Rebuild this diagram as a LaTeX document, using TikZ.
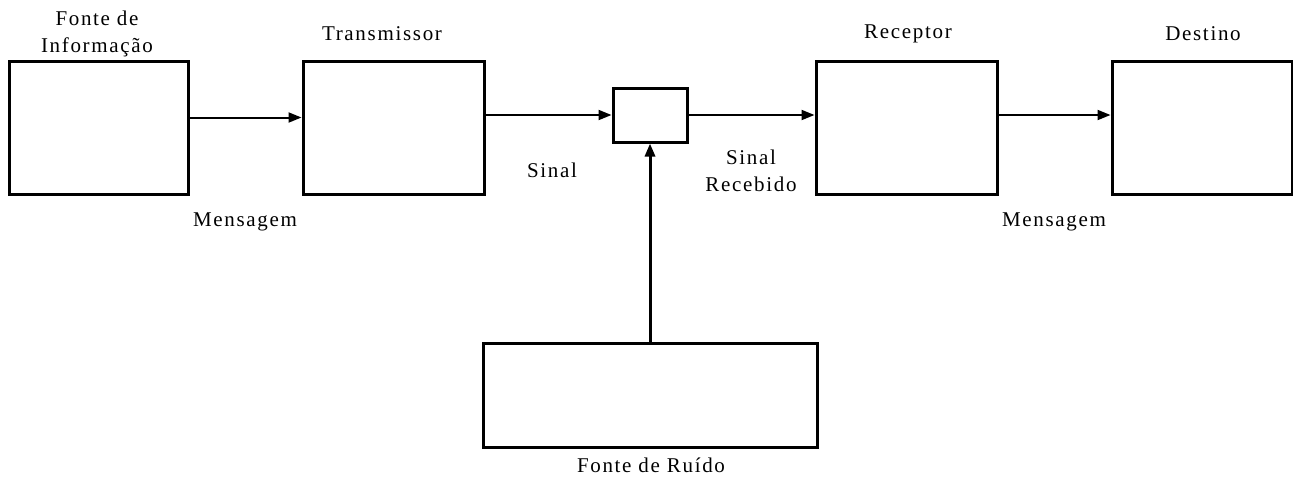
\documentclass[tikz,border=0pt]{standalone}
\usepackage{fontspec}
\newfontfamily\serfont[LetterSpace=8]{Liberation Serif}
\usetikzlibrary{arrows.meta}
\tikzset{
  blk/.style={draw, line width=3pt, inner sep=0pt, anchor=center},
  arr/.style={line width=2pt, -{Triangle[length=13pt,width=10pt]}},
  lbl/.style={inner sep=0pt, anchor=center, align=center, font=\serfont\fontsize{21}{27}\selectfont}
}
\begin{document}
\begin{tikzpicture}[x=1pt,y=-1pt]
\useasboundingbox (0,0) rectangle (1293,477);
\node[blk, minimum width=179pt, minimum height=133pt] (fonte) at (98.5,127.5) {};
\node[blk, minimum width=181pt, minimum height=133pt] (trans) at (393.5,127.5) {};
\node[blk, minimum width=74pt, minimum height=54pt] (canal) at (650,115) {};
\node[blk, minimum width=181pt, minimum height=133pt] (recep) at (906.5,127.5) {};
\node[blk, minimum width=180pt, minimum height=133pt] (dest) at (1202,127.5) {};
\node[blk, minimum width=334pt, minimum height=104pt] (ruido) at (650,395) {};

\node[lbl] (lfonte) at (97,34) {Fonte de\\Informação};
\node[lbl] (ltrans) at (382,34) {Transmissor};
\node[lbl] (lrecep) at (908,34) {Receptor};
\node[lbl] (ldest) at (1203,34) {Destino};
\node[lbl] (lmsg1) at (245,222) {Mensagem};
\node[lbl] (lmsg2) at (1054,222) {Mensagem};
\node[lbl] (lsinal) at (552,170) {Sinal};
\node[lbl] (lsinrec) at (751,171) {Sinal\\Recebido};
\node[lbl] (lruido) at (651,465) {Fonte de Ruído};

\draw[arr] ([yshift=10pt]fonte.east) -- ([yshift=10pt]trans.west);
\draw[arr] ([yshift=12.5pt]trans.east) -- (canal.west);
\draw[arr] (canal.east) -- ([yshift=12.5pt]recep.west);
\draw[arr] ([yshift=12.5pt]recep.east) -- ([yshift=12.5pt]dest.west);
\draw[arr, line width=3pt] (ruido.north) -- (canal.south);
\end{tikzpicture}
\end{document}
